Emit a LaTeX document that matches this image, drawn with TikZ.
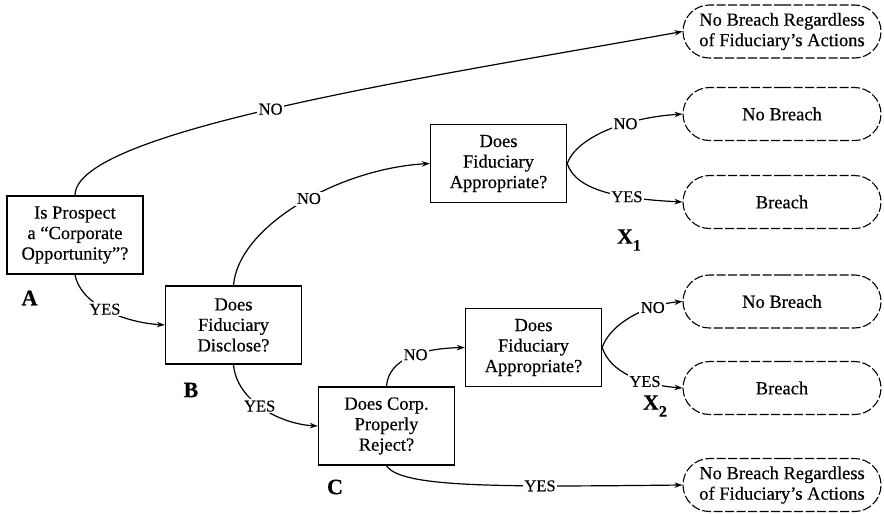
\documentclass[tikz,border=0pt]{standalone}
\usepackage{fontspec}
\setmainfont{Liberation Serif}[FakeBold=0.4]
\usetikzlibrary{shapes.misc,arrows.meta}
\begin{document}
\begin{tikzpicture}[x=1pt,y=-1pt,
  qbox/.style={draw,line width=1.4pt,minimum width=136pt,minimum height=78pt,align=center,font=\fontsize{18.5}{20.5}\selectfont,inner sep=1pt},
  outc/.style={draw,rounded rectangle,dash pattern=on 9pt off 2.5pt,line width=1.1pt,minimum width=200pt,minimum height=53pt,align=center,font=\fontsize{18.5}{20.5}\selectfont,inner sep=1pt},
  lab/.style={fill=white,inner sep=1.5pt,font=\fontsize{16.5}{16.5}\selectfont},
  letter/.style={font=\fontsize{22}{22}\selectfont\bfseries,inner sep=0pt},
  arr/.style={-{Stealth[length=8pt,width=5.5pt]},line width=1.2pt}]
\useasboundingbox (0,0) rectangle (884,514);

% decision boxes
\node[qbox] (A)  at (75,235)    {Is Prospect\\a “Corporate\\Opportunity”?};
\node[qbox] (B)  at (233.5,325) {Does\\Fiduciary\\Disclose?};
\node[qbox] (C)  at (386.5,426) {Does Corp.\\Properly\\Reject?};
\node[qbox] (D1) at (498.5,163.5) {Does\\Fiduciary\\Appropriate?};
\node[qbox] (D2) at (533.5,347.5) {Does\\Fiduciary\\Appropriate?};

% outcomes
\node[outc] (O1) at (782,31.5) {No Breach Regardless\\of Fiduciary’s Actions};
\node[outc] (O2) at (782,114)  {No Breach};
\node[outc] (O3) at (782,202)  {Breach};
\node[outc] (O4) at (782,301.5){No Breach};
\node[outc] (O5) at (782,388)  {Breach};
\node[outc] (O6) at (782,485)  {No Breach Regardless\\of Fiduciary’s Actions};

% letters
\node[letter] (LA) at (29.5,298) {A};
\node[letter] (LB) at (191,390) {B};
\node[letter] (LC) at (335,487) {C};
\node[letter] (LX1) at (629,240) {X\raisebox{-7pt}{\fontsize{16}{16}\selectfont 1}};
\node[letter] (LX2) at (655,406) {X\raisebox{-7pt}{\fontsize{16}{16}\selectfont 2}};

% connectors
\draw[arr] (A.north) .. controls +(0,-65) and +(-250,45) .. (O1.west)
  node[lab,pos=0.48] {NO};
\draw[arr] (A.south) .. controls +(5,28) and +(-45,-3) .. (B.west)
  node[lab,pos=0.5] {YES};
\draw[arr] (B.north) .. controls +(5,-60) and +(-90,5) .. (D1.west)
  node[lab,pos=0.54] {NO};
\draw[arr] (B.south) .. controls +(3,36) and +(-38,-2) .. (C.west)
  node[lab,pos=0.47] {YES};
\draw[arr] (D1.east) .. controls +(9,-25) and +(-60,4) .. (O2.west)
  node[lab,pos=0.65] {NO};
\draw[arr] (D1.east) .. controls +(9,28) and +(-60,-3) .. (O3.west)
  node[lab,pos=0.66] {YES};
\draw[arr] (C.north) .. controls +(2,-27) and +(-45,1) .. (D2.west)
  node[lab,pos=0.57] {NO};
\draw[arr] (D2.east) .. controls +(8,-24) and +(-36,3) .. (O4.west)
  node[lab,pos=0.72] {NO};
\draw[arr] (D2.east) .. controls +(8,25) and +(-40,-3) .. (O5.west)
  node[lab,pos=0.66] {YES};
\draw[arr] (C.south) .. controls +(14,22) and +(-184,2) .. (O6.west)
  node[lab,pos=0.7] {YES};
\end{tikzpicture}
\end{document}
